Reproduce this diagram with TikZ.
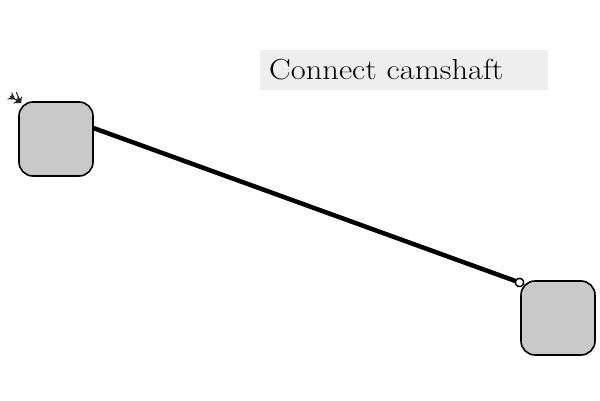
\documentclass[tikz,border=0pt]{standalone}
\usepackage{graphicx}
\usetikzlibrary{arrows.meta}
\begin{document}
\begin{tikzpicture}[x=1pt,y=1pt,
  box/.style={draw=black,line width=1.6pt,fill=black!21,rounded corners=14pt,minimum width=74pt,minimum height=74pt,inner sep=0pt},
  conn/.style={line width=4.5pt,draw=black},
  tipc/.style={black!85,line width=1pt}]
\useasboundingbox (0,0) rectangle (600,400);
\node[box] (b1) at (56,261) {};
\node[box] (b2) at (558,82) {};
\node[fill=black!6.5,minimum width=288pt,minimum height=40pt,inner sep=0pt,anchor=north west] (lbl) at (260,350) {};
\node[anchor=west,inner sep=0pt,font=\fontsize{29}{34}\selectfont] (txt) at (269,330) {\scalebox{1.12}[1]{Connect camshaft}};
\draw[conn,-{Circle[open,length=10pt,width=10pt,line width=1.5pt]}] (b1.16) -- ([shift={(4pt,-4pt)}]b2.north west);
\coordinate (t0) at ([shift={(-8pt,5pt)}]b1.north west);
\coordinate (t1) at ([shift={(3pt,-2pt)}]b1.north west);
\draw[tipc,-{Stealth[length=7pt,width=9pt]Stealth[length=7pt,width=9pt]}] (t0) -- (t1);
\draw[tipc,-{Stealth[length=6pt,width=7pt]}] ([shift={(6pt,4pt)}]t0) -- (t1);
\end{tikzpicture}
\end{document}
